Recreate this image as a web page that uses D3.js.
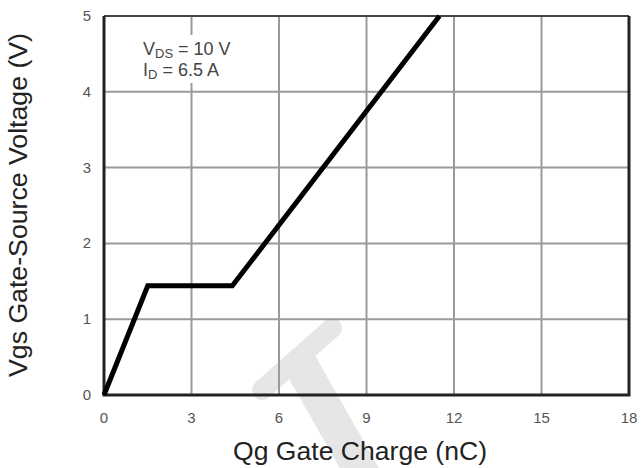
<!DOCTYPE html>
<html>
<head>
<meta charset="utf-8">
<script src="https://cdn.jsdelivr.net/npm/d3@7"></script>
<style>
  body { margin: 0; background: #fff; }
  svg { display: block; font-family: "Liberation Sans", Arial, sans-serif; }
</style>
</head>
<body>
<div id="chart"></div>
<script>
// gate charge curve (Qg in nC, Vgs in V)
const qg = [0, 1.5, 4.4, 11.5];
const vgs = [0, 1.44, 1.44, 5];
const xTicks = [0, 3, 6, 9, 12, 15, 18];
const yTicks = [0, 1, 2, 3, 4, 5];

const width = 641, height = 468;
const margin = { top: 16, right: 12, bottom: 73, left: 104 };
const innerW = width - margin.left - margin.right;
const innerH = height - margin.top - margin.bottom;

const svg = d3.select("#chart").append("svg")
    .attr("width", width)
    .attr("height", height);

// faint watermark behind the plot
const wm = svg.append("g").attr("stroke", "#e6e6e6");
wm.append("line").attr("x1", 262).attr("y1", 390).attr("x2", 332).attr("y2", 328)
    .attr("stroke-width", 20).attr("stroke-linecap", "round");
wm.append("line").attr("x1", 298).attr("y1", 360).attr("x2", 365).attr("y2", 478)
    .attr("stroke-width", 34);

const x = d3.scaleLinear().domain([0, 18]).range([0, innerW]);
const y = d3.scaleLinear().domain([0, 5]).range([innerH, 0]);

const g = svg.append("g").attr("transform", `translate(${margin.left},${margin.top})`);

// grid
g.append("g").selectAll("line").data(xTicks.slice(1, -1)).join("line")
    .attr("x1", d => x(d)).attr("x2", d => x(d))
    .attr("y1", 0).attr("y2", innerH)
    .attr("stroke", "#9a9a9a").attr("stroke-width", 2);
g.append("g").selectAll("line").data(yTicks.slice(1, -1)).join("line")
    .attr("x1", 0).attr("x2", innerW)
    .attr("y1", d => y(d)).attr("y2", d => y(d))
    .attr("stroke", "#9a9a9a").attr("stroke-width", 2);

// annotation box (white, covers grid)
g.append("rect").attr("x", 34).attr("y", 19).attr("width", 112).attr("height", 48).attr("fill", "#fff");
const ann = g.append("text").attr("fill", "#444").attr("font-size", 18);
ann.append("tspan").attr("x", 39).attr("y", 39).text("V");
ann.append("tspan").attr("font-size", 13).attr("dy", 3).text("DS");
ann.append("tspan").attr("dy", -3).text(" = 10 V");
const ann2 = g.append("text").attr("fill", "#444").attr("font-size", 18);
ann2.append("tspan").attr("x", 39).attr("y", 60).text("I");
ann2.append("tspan").attr("font-size", 13).attr("dy", 3).text("D");
ann2.append("tspan").attr("dy", -3).text(" = 6.5 A");

// frame
g.append("line").attr("x1", 0).attr("x2", innerW).attr("y1", 0).attr("y2", 0)
    .attr("stroke", "#444").attr("stroke-width", 2);
g.append("path")
    .attr("d", `M0,0V${innerH}H${innerW}V0`)
    .attr("fill", "none").attr("stroke", "#222").attr("stroke-width", 3);

// curve
const pts = qg.map((d, i) => [d, vgs[i]]);
g.append("path").datum(pts)
    .attr("d", d3.line().x(d => x(d[0])).y(d => y(d[1])))
    .attr("fill", "none").attr("stroke", "#000").attr("stroke-width", 5)
    .attr("stroke-linejoin", "miter");

// tick labels
g.append("g").selectAll("text").data(xTicks).join("text")
    .attr("x", d => x(d)).attr("y", innerH + 28)
    .attr("text-anchor", "middle").attr("fill", "#555").attr("font-size", 15)
    .text(d => d);
g.append("g").selectAll("text").data(yTicks).join("text")
    .attr("x", -17).attr("y", d => y(d) + 5)
    .attr("text-anchor", "middle").attr("fill", "#555").attr("font-size", 15)
    .text(d => d);

// axis titles
svg.append("text")
    .attr("x", 360).attr("y", 460)
    .attr("text-anchor", "middle").attr("fill", "#222").attr("font-size", 26)
    .attr("textLength", 254).attr("lengthAdjust", "spacingAndGlyphs")
    .text("Qg Gate Charge (nC)");
svg.append("text")
    .attr("transform", "translate(27,205) rotate(-90)")
    .attr("text-anchor", "middle").attr("fill", "#222").attr("font-size", 26)
    .attr("textLength", 344).attr("lengthAdjust", "spacingAndGlyphs")
    .text("Vgs Gate-Source Voltage (V)");
</script>
</body>
</html>
